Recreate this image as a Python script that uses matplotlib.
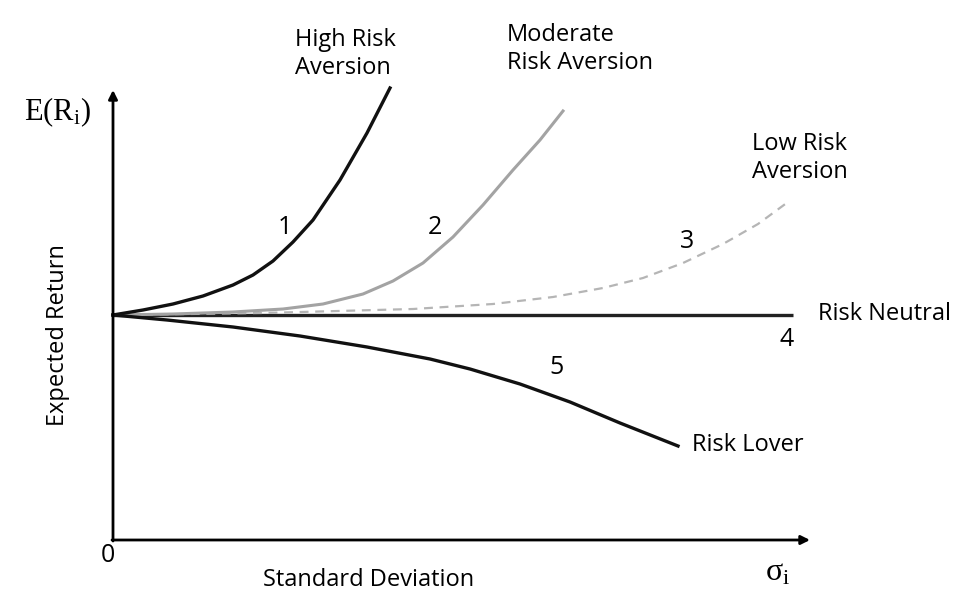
import matplotlib
matplotlib.use("Agg")
import matplotlib.pyplot as plt

plt.rcParams['mathtext.fontset'] = 'custom'
plt.rcParams['mathtext.rm'] = 'Liberation Serif'
plt.rcParams['mathtext.it'] = 'Liberation Serif:italic'

# Data in chart units (origin at axes corner)
c1_x = [0, 30, 60, 90, 120, 140, 160, 180, 200, 227, 254, 277]
c1_y = [225, 230, 236, 244, 255, 265, 279, 298, 320, 360, 407, 452]

c2_x = [0, 60, 120, 170, 210, 250, 280, 310, 340, 370, 400, 427, 450]
c2_y = [225, 226, 228, 231, 236, 246, 259, 277, 303, 335, 370, 400, 429]

c3_x = [0, 150, 300, 380, 440, 490, 530, 570, 610, 645, 675]
c3_y = [225, 227, 231, 236, 243, 252, 262, 277, 296, 316, 338]

c4_x = [0, 680]
c4_y = [225, 225]

c5_x = [0, 54, 120, 187, 254, 317, 357, 407, 457, 507, 565]
c5_y = [225, 220, 213, 204, 193, 181, 171, 156, 138, 117, 94]

curve_labels = ["1", "2", "3", "4", "5"]
curve_label_pos = [(172, 312), (322, 313), (574, 298), (674, 200), (444, 172)]

fig = plt.figure(figsize=(9.79, 6.12), dpi=100)
ax = fig.add_axes([0, 0, 1, 1])
ax.set_xlim(-113, 866)
ax.set_ylim(-72, 540)
ax.axis('off')

# axes arrows
arrow_kw = dict(arrowstyle='-|>', color='black', lw=2, mutation_scale=13,
                shrinkA=0, shrinkB=0)
ax.annotate('', xy=(0, 450), xytext=(0, -1), arrowprops=arrow_kw)
ax.annotate('', xy=(697, 0), xytext=(-1, 0), arrowprops=arrow_kw)

ax.plot(c4_x, c4_y, color='#222222', lw=2.4, solid_capstyle='butt')
ax.plot(c3_x, c3_y, color='#b5b5b5', lw=1.6, ls=(0, (4, 3)))
ax.plot(c2_x, c2_y, color='#a3a3a3', lw=2.2)
ax.plot(c1_x, c1_y, color='#111111', lw=2.4)
ax.plot(c5_x, c5_y, color='#111111', lw=2.4)

sans = 'Open Sans'
fs = 17
for lab, (x, y) in zip(curve_labels, curve_label_pos):
    ax.text(x, y, lab, fontsize=18, family=sans, ha='center', va='center')

ax.text(182, 486, 'High Risk\nAversion', fontsize=fs, family=sans,
        ha='left', va='center', linespacing=1.2)
ax.text(394, 491, 'Moderate\nRisk Aversion', fontsize=fs, family=sans,
        ha='left', va='center', linespacing=1.2)
ax.text(639, 382, 'Low Risk\nAversion', fontsize=fs, family=sans,
        ha='left', va='center', linespacing=1.2)
ax.text(705, 226, 'Risk Neutral', fontsize=fs, family=sans, ha='left', va='center')
ax.text(579, 95, 'Risk Lover', fontsize=fs, family=sans, ha='left', va='center')

ax.text(-55, 205, 'Expected Return', fontsize=fs, family=sans, rotation=90,
        ha='center', va='center')
ax.text(256, -40, 'Standard Deviation', fontsize=fs, family=sans,
        ha='center', va='center')
ax.text(-5, -16, '0', fontsize=18, family=sans, ha='center', va='center')

ax.text(-56, 428, r'$\mathrm{E(R_i)}$', fontsize=22, ha='center', va='center')
ax.text(665, -32, r'$\mathrm{σ_i}$', fontsize=23, ha='center', va='center')

fig.savefig('out.png', dpi=100)
